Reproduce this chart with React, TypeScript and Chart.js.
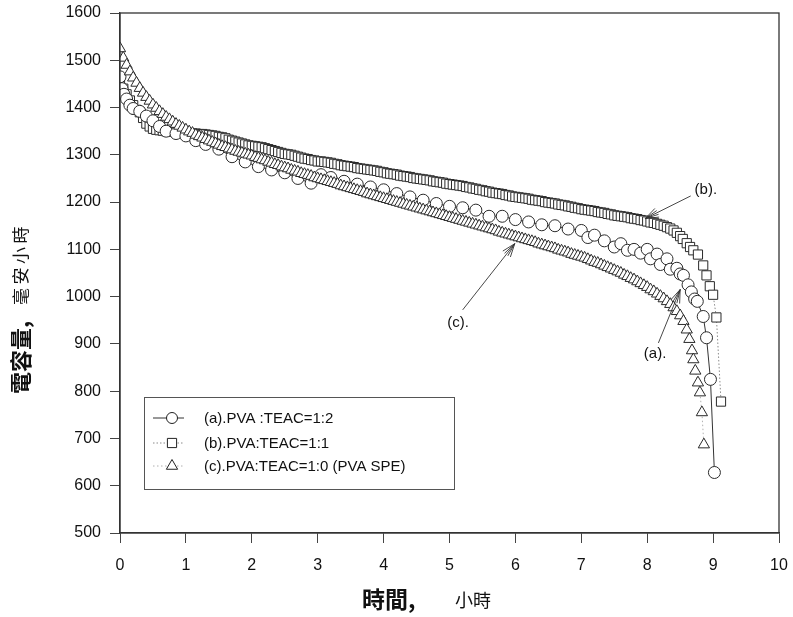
import React, { useEffect, useRef } from "react";
import { Chart, registerables } from "chart.js";
Chart.register(...registerables);

// ---------- data ----------
const seriesLabels = [
  "(a).PVA :TEAC=1:2",
  "(b).PVA:TEAC=1:1",
  "(c).PVA:TEAC=1:0 (PVA SPE)",
];

const aX = [0, 0.03, 0.06, 0.1, 0.15, 0.2, 0.3, 0.4, 0.5, 0.6, 0.7, 0.85, 1.0, 1.15, 1.3, 1.5, 1.7, 1.9, 2.1, 2.3, 2.5, 2.7, 2.9, 3.05, 3.2, 3.4, 3.6, 3.8, 4.0, 4.2, 4.4, 4.6, 4.8, 5.0, 5.2, 5.4, 5.6, 5.8, 6.0, 6.2, 6.4, 6.6, 6.8, 7.0, 7.1, 7.2, 7.35, 7.5, 7.6, 7.7, 7.8, 7.9, 8.0, 8.05, 8.15, 8.2, 8.3, 8.35, 8.45, 8.5, 8.55, 8.62, 8.67, 8.72, 8.76, 8.85, 8.9, 8.96, 9.02];
const aY = [1465, 1440, 1428, 1418, 1405, 1398, 1392, 1382, 1372, 1360, 1350, 1345, 1340, 1330, 1322, 1312, 1296, 1285, 1275, 1268, 1262, 1250, 1240, 1258, 1252, 1244, 1238, 1232, 1226, 1218, 1211, 1204, 1197, 1191, 1188, 1183, 1170, 1170, 1163, 1158, 1152, 1150, 1143, 1140, 1125, 1130, 1118, 1105, 1112, 1098, 1100, 1092, 1100, 1080, 1090, 1068, 1080, 1058, 1060, 1048, 1045, 1025, 1010, 995, 990, 958, 913, 825, 628];

const bX = [0, 0.05, 0.1, 0.15, 0.2, 0.25, 0.3, 0.35, 0.4, 0.45, 0.5, 0.55, 0.6, 0.65, 0.7, 0.75, 0.8, 0.85, 0.9, 0.95, 1.0, 1.05, 1.1, 1.15, 1.2, 1.25, 1.3, 1.35, 1.4, 1.45, 1.5, 1.55, 1.6, 1.65, 1.7, 1.75, 1.8, 1.85, 1.9, 1.95, 2.0, 2.05, 2.1, 2.15, 2.2, 2.25, 2.3, 2.35, 2.4, 2.45, 2.5, 2.55, 2.6, 2.65, 2.7, 2.75, 2.8, 2.85, 2.9, 2.95, 3.0, 3.05, 3.1, 3.15, 3.2, 3.25, 3.3, 3.35, 3.4, 3.45, 3.5, 3.55, 3.6, 3.65, 3.7, 3.75, 3.8, 3.85, 3.9, 3.95, 4.0, 4.05, 4.1, 4.15, 4.2, 4.25, 4.3, 4.35, 4.4, 4.45, 4.5, 4.55, 4.6, 4.65, 4.7, 4.75, 4.8, 4.85, 4.9, 4.95, 5.0, 5.05, 5.1, 5.15, 5.2, 5.25, 5.3, 5.35, 5.4, 5.45, 5.5, 5.55, 5.6, 5.65, 5.7, 5.75, 5.8, 5.85, 5.9, 5.95, 6.0, 6.05, 6.1, 6.15, 6.2, 6.25, 6.3, 6.35, 6.4, 6.45, 6.5, 6.55, 6.6, 6.65, 6.7, 6.75, 6.8, 6.85, 6.9, 6.95, 7.0, 7.05, 7.1, 7.15, 7.2, 7.25, 7.3, 7.35, 7.4, 7.45, 7.5, 7.55, 7.6, 7.65, 7.7, 7.75, 7.8, 7.85, 7.9, 7.95, 8.0, 8.05, 8.1, 8.15, 8.2, 8.25, 8.3, 8.35, 8.4, 8.45, 8.5, 8.54, 8.6, 8.65, 8.7, 8.77, 8.85, 8.9, 8.95, 9.0, 9.05, 9.12];
const bY = [1458, 1440, 1428, 1415, 1405, 1395, 1390, 1378, 1366, 1360, 1355, 1353, 1352, 1351, 1350, 1350, 1349, 1348, 1347, 1347, 1346, 1346, 1345, 1345, 1344, 1344, 1343, 1342, 1341, 1340, 1338, 1337, 1335, 1332, 1330, 1328, 1326, 1324, 1322, 1320, 1319, 1318, 1317, 1316, 1314, 1312, 1310, 1308, 1306, 1304, 1302, 1301, 1300, 1298, 1296, 1294, 1292, 1291, 1289, 1288, 1286, 1286, 1285, 1284, 1283, 1281, 1280, 1278, 1277, 1276, 1275, 1274, 1272, 1271, 1270, 1269, 1268, 1267, 1266, 1264, 1263, 1261, 1260, 1259, 1258, 1256, 1255, 1254, 1253, 1251, 1250, 1249, 1248, 1247, 1246, 1244, 1243, 1242, 1241, 1239, 1238, 1237, 1236, 1235, 1234, 1232, 1231, 1229, 1228, 1226, 1225, 1223, 1222, 1220, 1219, 1218, 1217, 1215, 1214, 1212, 1211, 1210, 1209, 1208, 1207, 1205, 1204, 1203, 1202, 1200, 1199, 1198, 1197, 1195, 1194, 1193, 1191, 1190, 1188, 1187, 1185, 1184, 1183, 1182, 1181, 1179, 1178, 1177, 1175, 1174, 1172, 1171, 1170, 1169, 1168, 1166, 1165, 1164, 1162, 1161, 1159, 1157, 1156, 1154, 1152, 1150, 1147, 1144, 1140, 1135, 1128, 1122, 1113, 1105, 1098, 1089, 1066, 1045, 1022, 1004, 956, 778];

const cX = [0, 0.05, 0.1, 0.15, 0.2, 0.25, 0.3, 0.35, 0.4, 0.45, 0.5, 0.55, 0.6, 0.65, 0.7, 0.75, 0.8, 0.85, 0.9, 0.95, 1.0, 1.05, 1.1, 1.15, 1.2, 1.25, 1.3, 1.35, 1.4, 1.45, 1.5, 1.55, 1.6, 1.65, 1.7, 1.75, 1.8, 1.85, 1.9, 1.95, 2.0, 2.05, 2.1, 2.15, 2.2, 2.25, 2.3, 2.35, 2.4, 2.45, 2.5, 2.55, 2.6, 2.65, 2.7, 2.75, 2.8, 2.85, 2.9, 2.95, 3.0, 3.05, 3.1, 3.15, 3.2, 3.25, 3.3, 3.35, 3.4, 3.45, 3.5, 3.55, 3.6, 3.65, 3.7, 3.75, 3.8, 3.85, 3.9, 3.95, 4.0, 4.05, 4.1, 4.15, 4.2, 4.25, 4.3, 4.35, 4.4, 4.45, 4.5, 4.55, 4.6, 4.65, 4.7, 4.75, 4.8, 4.85, 4.9, 4.95, 5.0, 5.05, 5.1, 5.15, 5.2, 5.25, 5.3, 5.35, 5.4, 5.45, 5.5, 5.55, 5.6, 5.65, 5.7, 5.75, 5.8, 5.85, 5.9, 5.95, 6.0, 6.05, 6.1, 6.15, 6.2, 6.25, 6.3, 6.35, 6.4, 6.45, 6.5, 6.55, 6.6, 6.65, 6.7, 6.75, 6.8, 6.85, 6.9, 6.95, 7.0, 7.05, 7.1, 7.15, 7.2, 7.25, 7.3, 7.35, 7.4, 7.45, 7.5, 7.55, 7.6, 7.65, 7.7, 7.75, 7.8, 7.85, 7.9, 7.95, 8.0, 8.05, 8.1, 8.15, 8.2, 8.25, 8.3, 8.35, 8.4, 8.45, 8.5, 8.55, 8.6, 8.64, 8.68, 8.7, 8.73, 8.77, 8.8, 8.83, 8.86];
const cY = [1525, 1505, 1490, 1476, 1463, 1452, 1441, 1431, 1422, 1414, 1406, 1399, 1392, 1386, 1380, 1375, 1370, 1365, 1361, 1357, 1353, 1349, 1346, 1342, 1339, 1336, 1333, 1330, 1327, 1324, 1321, 1318, 1316, 1313, 1311, 1308, 1306, 1304, 1302, 1300, 1298, 1295, 1293, 1290, 1288, 1285, 1283, 1280, 1278, 1275, 1273, 1271, 1268, 1266, 1264, 1261, 1259, 1257, 1255, 1252, 1250, 1248, 1246, 1244, 1242, 1240, 1238, 1235, 1233, 1231, 1229, 1227, 1225, 1223, 1221, 1218, 1216, 1214, 1212, 1210, 1208, 1206, 1204, 1202, 1200, 1198, 1196, 1194, 1192, 1190, 1188, 1186, 1184, 1182, 1180, 1178, 1176, 1174, 1172, 1170, 1168, 1166, 1164, 1162, 1160, 1158, 1156, 1154, 1152, 1150, 1148, 1146, 1144, 1142, 1140, 1137, 1135, 1133, 1131, 1129, 1127, 1125, 1123, 1121, 1119, 1117, 1115, 1112, 1110, 1108, 1106, 1104, 1102, 1099, 1097, 1095, 1093, 1090, 1088, 1086, 1084, 1082, 1079, 1076, 1073, 1071, 1068, 1065, 1062, 1059, 1056, 1053, 1050, 1046, 1043, 1039, 1036, 1032, 1028, 1024, 1020, 1015, 1011, 1006, 1001, 996, 990, 984, 977, 969, 960, 948, 930, 910, 886, 867, 843, 818, 797, 755, 687];

const xTickValues = [0, 1, 2, 3, 4, 5, 6, 7, 8, 9, 10];
const yTickValues = [500, 600, 700, 800, 900, 1000, 1100, 1200, 1300, 1400, 1500, 1600];

const yTitleMain = "電容量,";
const yTitleUnit = "毫安小時";
const xTitleMain = "時間,";
const xTitleUnit = "小時";

// annotation callouts in data coordinates: label position, line start, arrow tip
const callouts = [
  { text: "(a).", label: [8.12, 880], from: [8.17, 902], to: [8.5, 1015] },
  { text: "(b).", label: [8.89, 1226], from: [8.66, 1213], to: [7.97, 1165] },
  { text: "(c).", label: [5.13, 944], from: [5.2, 972], to: [5.99, 1112] },
];

const markerStyles = ["circle", "rect", "triangle"];
const lineColors = ["#333333", "#8a8a8a", "#b0b0b0"];
const lineDashes: number[][] = [[], [1.5, 2], [1.5, 2.5]];

const W = 793;
const H = 617;

function drawMarker(ctx: CanvasRenderingContext2D, style: string, x: number, y: number, r: number) {
  ctx.beginPath();
  if (style === "circle") {
    ctx.arc(x, y, r, 0, Math.PI * 2);
  } else if (style === "rect") {
    const s = r * Math.SQRT1_2;
    ctx.rect(x - s, y - s, 2 * s, 2 * s);
  } else {
    for (let i = 0; i < 3; i++) {
      const a = (i * 2 * Math.PI) / 3;
      const px = x + Math.sin(a) * r;
      const py = y - Math.cos(a) * r;
      if (i === 0) ctx.moveTo(px, py);
      else ctx.lineTo(px, py);
    }
    ctx.closePath();
  }
  ctx.fillStyle = "#fff";
  ctx.fill();
  ctx.strokeStyle = "#222";
  ctx.lineWidth = 1;
  ctx.stroke();
}

const decorPlugin = {
  id: "decor",
  afterDraw(chart: any) {
    const ctx: CanvasRenderingContext2D = chart.ctx;
    const { left, right, top, bottom } = chart.chartArea;
    const xs = chart.scales.x;
    const ys = chart.scales.y;
    ctx.save();
    // frame
    ctx.strokeStyle = "#333";
    ctx.lineWidth = 1.3;
    ctx.setLineDash([]);
    ctx.strokeRect(left, top, right - left, bottom - top);

    // legend box
    const lx = 144, ly = 397, lw = 310, lh = 92;
    ctx.fillStyle = "#fff";
    ctx.fillRect(lx, ly, lw, lh);
    ctx.strokeStyle = "#555";
    ctx.lineWidth = 1;
    ctx.strokeRect(lx + 0.5, ly + 0.5, lw, lh);
    const rowY = [418, 443, 466];
    seriesLabels.forEach((lab, i) => {
      const y = rowY[i];
      ctx.save();
      ctx.strokeStyle = lineColors[i];
      ctx.lineWidth = 1;
      ctx.setLineDash(lineDashes[i]);
      ctx.beginPath();
      ctx.moveTo(153, y);
      ctx.lineTo(184, y);
      ctx.stroke();
      ctx.restore();
      drawMarker(ctx, markerStyles[i], 172, y, i === 0 ? 5.5 : 6.5);
      ctx.fillStyle = "#111";
      ctx.font = "15px 'Liberation Sans', Arial, sans-serif";
      ctx.textAlign = "left";
      ctx.textBaseline = "middle";
      ctx.fillText(lab, 204, y + 1);
    });

    // callouts
    callouts.forEach((c) => {
      const tx = xs.getPixelForValue(c.label[0]);
      const ty = ys.getPixelForValue(c.label[1]);
      const fx = xs.getPixelForValue(c.from[0]);
      const fy = ys.getPixelForValue(c.from[1]);
      const px = xs.getPixelForValue(c.to[0]);
      const py = ys.getPixelForValue(c.to[1]);
      ctx.fillStyle = "#111";
      ctx.font = "15px 'Liberation Sans', Arial, sans-serif";
      ctx.textAlign = "center";
      ctx.textBaseline = "middle";
      ctx.fillText(c.text, tx, ty);
      ctx.strokeStyle = "#333";
      ctx.lineWidth = 0.9;
      ctx.beginPath();
      ctx.moveTo(fx, fy);
      ctx.lineTo(px, py);
      ctx.stroke();
      const ang = Math.atan2(fy - py, fx - px);
      [-0.35, -0.15, 0.15, 0.35].forEach((d) => {
        ctx.beginPath();
        ctx.moveTo(px, py);
        ctx.lineTo(px + Math.cos(ang + d) * 14, py + Math.sin(ang + d) * 14);
        ctx.stroke();
      });
    });

    // axis titles
    ctx.fillStyle = "#111";
    ctx.textBaseline = "middle";
    ctx.textAlign = "left";
    ctx.font = "bold 23px 'Noto Sans CJK TC', 'Noto Sans CJK SC', sans-serif";
    ctx.fillText(xTitleMain, 362, 599);
    ctx.font = "18px 'Noto Sans CJK TC', 'Noto Sans CJK SC', sans-serif";
    ctx.fillText(xTitleUnit, 455, 600);

    ctx.save();
    ctx.translate(21, 394);
    ctx.rotate(-Math.PI / 2);
    ctx.font = "bold 22px 'Noto Sans CJK TC', 'Noto Sans CJK SC', sans-serif";
    ctx.fillText(yTitleMain, 0, 0);
    ctx.font = "17px 'Noto Sans CJK TC', 'Noto Sans CJK SC', sans-serif";
    let off = 89;
    for (const ch of yTitleUnit) {
      ctx.fillText(ch, off, 0);
      off += 20.5;
    }
    ctx.restore();
    ctx.restore();
  },
};

export default function App() {
  const ref = useRef<HTMLCanvasElement | null>(null);
  useEffect(() => {
    document.body.style.margin = "0";
    const canvas = ref.current;
    if (!canvas) return;
    const mk = (xs: number[], ys: number[]) => xs.map((x, i) => ({ x, y: ys[i] }));
    const radii = [6, 6.5, 6.5];
    const drawOrder = [1, 2, 0];
    const datasets = [mk(aX, aY), mk(bX, bY), mk(cX, cY)].map((d, i) => ({
      label: seriesLabels[i],
      data: d,
      order: drawOrder[i],
      showLine: true,
      borderColor: lineColors[i],
      borderWidth: 1,
      borderDash: lineDashes[i],
      pointStyle: markerStyles[i] as any,
      pointRadius: radii[i],
      pointBackgroundColor: "#fff",
      pointBorderColor: "#2a2a2a",
      pointBorderWidth: 1,
      tension: 0,
      fill: false,
    }));
    const tickFont = { family: "'Liberation Sans', Arial, sans-serif", size: 16 };
    const chart = new Chart(canvas, {
      type: "scatter",
      data: { datasets },
      options: {
        responsive: false,
        animation: false,
        events: [],
        layout: { padding: { left: 0, top: 13, right: 14, bottom: 0 } },
        plugins: { legend: { display: false }, tooltip: { enabled: false } },
        scales: {
          x: {
            type: "linear",
            min: 0,
            max: 10,
            afterBuildTicks: (s: any) => {
              s.ticks = xTickValues.map((v) => ({ value: v }));
            },
            afterFit: (s: any) => {
              s.height = 84;
              s.paddingLeft = 0;
              s.paddingRight = 0;
            },
            ticks: { font: tickFont, color: "#111", padding: 13, callback: (v: any) => String(v) },
            grid: { drawOnChartArea: false, drawTicks: true, tickLength: 10, color: "#444" },
            border: { display: true, color: "#333", width: 1.3 },
          },
          y: {
            type: "linear",
            min: 500,
            max: 1600,
            afterBuildTicks: (s: any) => {
              s.ticks = yTickValues.map((v) => ({ value: v }));
            },
            afterFit: (s: any) => {
              s.width = 120;
              s.paddingTop = 0;
              s.paddingBottom = 0;
            },
            ticks: { font: tickFont, color: "#111", padding: 9, callback: (v: any) => String(v) },
            grid: { drawOnChartArea: false, drawTicks: true, tickLength: 10, color: "#444" },
            border: { display: true, color: "#333", width: 1.3 },
          },
        },
      },
      plugins: [decorPlugin],
    });
    return () => chart.destroy();
  }, []);
  return (
    <div style={{ width: W, height: H, background: "#fff" }}>
      <canvas ref={ref} width={W} height={H} style={{ display: "block" }} />
    </div>
  );
}
